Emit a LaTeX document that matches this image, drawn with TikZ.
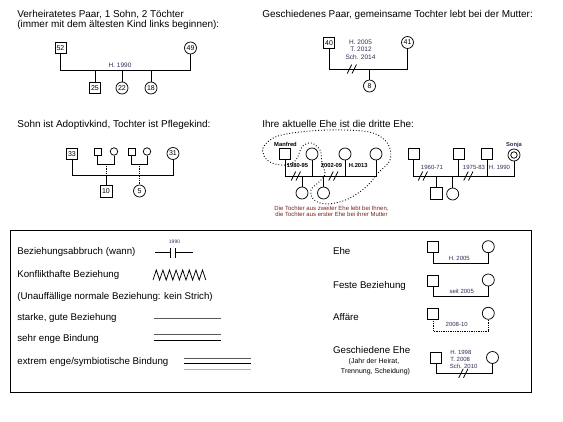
\documentclass[tikz,border=0pt]{standalone}
\usepackage{fontspec}
\setmainfont{Liberation Sans}
\definecolor{lblcol}{RGB}{45,45,90}
\definecolor{notecol}{RGB}{115,35,25}
\tikzset{
  man/.style={draw, rectangle, minimum size=11, inner sep=0, font=\fontsize{7}{7}\selectfont},
  woman/.style={draw, circle, minimum size=12, inner sep=0, font=\fontsize{7}{7}\selectfont},
  pman/.style={draw, rectangle, minimum size=7, inner sep=0},
  pwoman/.style={draw, circle, minimum size=7.5, inner sep=0},
  txt/.style={anchor=base west, inner sep=0, font=\fontsize{9.7}{11}\selectfont},
  head/.style={txt, font=\fontsize{9.95}{11}\selectfont},
  yr/.style={inner sep=0, text=lblcol, font=\fontsize{6.5}{7}\selectfont},
  yrs/.style={inner sep=0, text=lblcol, font=\fontsize{6}{6}\selectfont},
  yrb/.style={inner sep=0, font=\bfseries\fontsize{5.8}{6}\selectfont},
  splitmark/.pic={\draw (-4.75,4.5) -- (-0.25,-4.5); \draw (0,4.5) -- (4.5,-4.5);}
}
\begin{document}
\begin{tikzpicture}[x=1pt, y=-1pt, line width=0.75pt]
\useasboundingbox (0,0) rectangle (563,421);

% verheiratetes Paar
\node[head] (t1) at (17,17) {Verheiratetes Paar, 1 Sohn, 2 Töchter};
\node[head] (t1b) at (17,27) {(immer mit dem ältesten Kind links beginnen):};
\node[man] (p52) at (60.5,48) {52};
\node[woman] (p49) at (190.5,48) {49};
\coordinate (h1) at (60.5,70);
\draw (p52) -- (h1) -| (p49);
\node[yr] (y1) at (120,65) {H. 1990};
\node[man] (p25) at (95,88) {25};
\node[woman] (p22) at (122,88) {22};
\node[woman] (p18) at (151,88) {18};
\foreach \c in {p25,p22,p18}
  \draw (\c) -- (\c |- h1);

% geschiedenes Paar
\node[head] (t2) at (262,17) {Geschiedenes Paar, gemeinsame Tochter lebt bei der Mutter:};
\node[man] (p40) at (329,43) {40};
\node[woman] (p41) at (407.5,42.5) {41};
\coordinate (h2) at (329,69);
\draw (p40) -- (h2) -| (p41);
\node[woman] (p8) at (369.5,86) {8};
\draw (p8) -- (p8 |- h2);
\pic at (352,69) {splitmark};
\node[yr] (y2a) at (360.5,42) {H. 2005};
\node[yr] (y2b) at (361,49.3) {T. 2012};
\node[yr] (y2c) at (360.5,56.7) {Sch. 2014};

% Adoptiv- und Pflegekind
\node[head] (t3) at (17,127) {Sohn ist Adoptivkind, Tochter ist Pflegekind:};
\node[man] (p33) at (72,154) {33};
\node[woman] (p31) at (173,153.5) {31};
\node[pman] (am) at (97.5,151.5) {};
\node[pwoman] (aw) at (114,151.5) {};
\node[pman] (fm) at (131.5,151.5) {};
\node[pwoman] (fw) at (147,151.5) {};
\coordinate (ha) at (97.5,164);
\coordinate (hf) at (131.5,164);
\draw (am) -- (ha) -| (aw);
\draw (fm) -- (hf) -| (fw);
\coordinate (h3) at (72,175);
\draw (p33) -- (h3) -| (p31);
\node[man, minimum size=12] (p10) at (106,191.5) {10};
\node[woman] (p5) at (139.5,191) {5};
\draw[densely dotted] (p10 |- ha) -- (p10 |- h3);
\draw (p10) -- (p10 |- h3);
\draw[densely dotted] (p5 |- hf) -- (p5);

% dritte Ehe
\node[head] (t4) at (262,127) {Ihre aktuelle Ehe ist die dritte Ehe:};
\node[man, line width=1.6pt] (manf) at (285,154) {};
\node[yrb] (manfl) at (285.5,144.5) {Manfred};
\node[woman] (w1) at (312,154) {};
\node[woman] (w2) at (345,154) {};
\node[woman] (w3) at (376,154) {};
\coordinate (h4) at (285,176);
\draw (manf) -- (h4) -| (w3);
\draw (w1) -- (w1 |- h4);
\draw (w2) -- (w2 |- h4);
\node[woman] (d1) at (302,193) {};
\node[woman] (d2) at (323.5,193) {};
\draw (d1) -- (d1 |- h4);
\draw (d2) -- (d2 |- h4);
\node[yrb] (y4a) at (297.5,165.5) {1980-95};
\node[yrb] (y4b) at (331.5,165.5) {2002-09};
\node[yrb] (y4c) at (358.3,165.5) {H.2013};
\pic at (296,176) {splitmark};
\pic at (333.5,176) {splitmark};
\draw[dotted, line width=0.9pt] plot[smooth cycle, tension=0.6] coordinates {
  (264,146) (278,136) (310,131) (345,130) (373,133) (388,144) (390,160)
  (378,173) (366,187) (348,199) (328,204) (314,200) (311,190) (319,182)
  (325,174) (322,163) (320,150) (311,143) (302,147) (296,160) (286,165)
  (272,163) (264,156)};
\node[inner sep=0, text=notecol, font=\fontsize{6}{6.2}\selectfont, align=center] (note)
  at (331.5,211.5) {Die Tochter aus zweiter Ehe lebt bei Ihnen,\\die Tochter aus erster Ehe bei ihrer Mutter};

% Sonja
\node[man] (s1) at (413.5,153.5) {};
\node[man] (s2) at (458.5,153.5) {};
\node[man] (s3) at (487,153.5) {};
\node[woman] (sonja) at (514,155) {};
\node[draw, circle, minimum size=6.5, inner sep=0] (sonjain) at (sonja) {};
\node[yrb, text=lblcol] (sonjal) at (514,145) {Sonja};
\coordinate (h5) at (413.5,176);
\draw (s1) -- (h5) -| (sonja);
\draw (s2) -- (s2 |- h5);
\draw (s3) -- (s3 |- h5);
\node[man, minimum size=11.5] (c1) at (436.5,193.5) {};
\node[woman] (c2) at (452.7,194) {};
\draw (c1) -- (c1 |- h5);
\draw (c2) -- (c2 |- h5);
\node[yrs] (y5a) at (432,167) {1960-71};
\node[yrs] (y5b) at (474,167) {1975-83};
\node[yrs] (y5c) at (499.5,167) {H. 1990};
\pic at (423,176) {splitmark};
\pic at (468.5,176) {splitmark};

% Legende
\draw (10,230) rectangle (531,392);
\node[txt] (l1) at (17,254.7) {Beziehungsabbruch (wann)};
\node[txt] (l2) at (17,277.3) {Konflikthafte Beziehung};
\node[txt] (l3) at (17,299) {(Unauffällige normale Beziehung: kein Strich)};
\node[txt] (l4) at (17,320.7) {starke, gute Beziehung};
\node[txt] (l5) at (17,341.3) {sehr enge Bindung};
\node[txt] (l6) at (17,364) {extrem enge/symbiotische Bindung};
\draw (155,252.5) -- (170.5,252.5) (170.5,248) -- (170.5,257.5)
      (175.5,248) -- (175.5,257.5) (175.5,252.5) -- (193,252.5);
\node[yrs, font=\fontsize{5}{5}\selectfont] (lb) at (174.5,241.5) {1990};
\draw (153,280) \foreach \k in {1,...,8} {-- ++(3.3,-10) -- ++(3.3,10)};
\draw[gray!70!black] (154,318.3) -- (220.7,318.3);
\draw[gray!70!black, line width=1pt] (154,334.7) -- (220.7,334.7);
\draw (154,340) -- (220.7,340);
\draw[gray!70!black, line width=1pt] (184,358.8) -- (250.7,358.8);
\draw (184,363.8) -- (250.7,363.8);
\draw[gray!60, line width=1pt] (184,369.7) -- (250.7,369.7);

\node[txt] (r1) at (332.7,254.7) {Ehe};
\node[txt] (r2) at (332.7,288) {Feste Beziehung};
\node[txt] (r3) at (332.7,320.7) {Affäre};
\node[txt] (r4) at (332.7,353) {Geschiedene Ehe};
\node[inner sep=0, font=\fontsize{7}{7}\selectfont] (r4a) at (374,361.7) {(Jahr der Heirat,};
\node[inner sep=0, font=\fontsize{7}{7}\selectfont] (r4b) at (375.5,371.7) {Trennung, Scheidung)};

\node[man] (e1m) at (433.3,247) {};
\node[woman] (e1w) at (488.3,246.7) {};
\coordinate (e1) at (433.3,263.3);
\draw (e1m) -- (e1) -| (e1w);
\node[yrs] (e1y) at (459.3,258.3) {H. 2005};

\node[man] (e2m) at (433.3,281) {};
\node[woman] (e2w) at (488.3,280) {};
\coordinate (e2) at (433.3,296.7);
\draw (e2m) -- (e2) -| (e2w);
\node[yrs] (e2y) at (461.7,291) {seit 2005};

\node[man] (e3m) at (433.3,313.5) {};
\node[woman] (e3w) at (488.3,313.3) {};
\coordinate (e3) at (433.3,331);
\draw[densely dotted] (e3m) -- (e3) -| (e3w);
\node[yrs] (e3y) at (456.7,324.3) {2008-10};

\node[man] (e4m) at (436,357.5) {};
\node[woman] (e4w) at (492.5,357.5) {};
\coordinate (e4) at (436,373.3);
\draw (e4m) -- (e4) -| (e4w);
\pic at (463.5,373.3) {splitmark};
\node[yrs, anchor=west] (e4a) at (450,352.7) {H. 1998};
\node[yrs, anchor=west] (e4b) at (450,359.7) {T. 2008};
\node[yrs, anchor=west] (e4c) at (449.5,366.5) {Sch. 2010};
\end{tikzpicture}
\end{document}
